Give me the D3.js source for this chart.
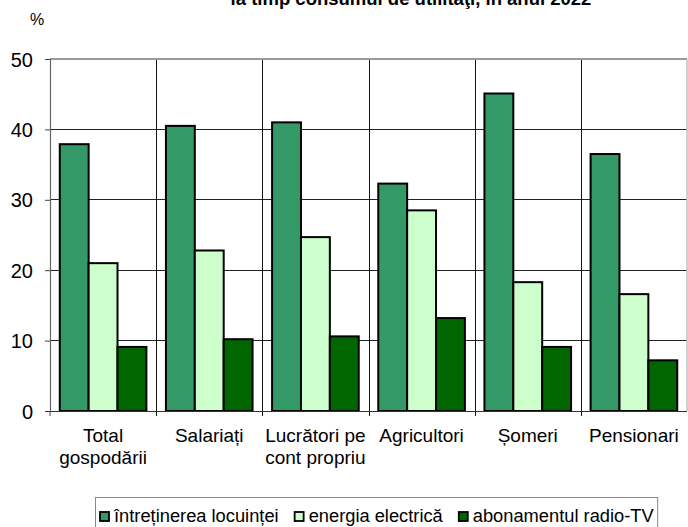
<!DOCTYPE html>
<html>
<head>
<meta charset="utf-8">
<script src="https://cdn.jsdelivr.net/npm/d3@7"></script>
<style>
  html, body { margin: 0; padding: 0; background: #fff; }
  svg { display: block; font-family: "Liberation Sans", Arial, sans-serif; }
</style>
</head>
<body>
<svg id="chart" width="688" height="527"></svg>
<script>
const categories = [["Total", "gospodării"], ["Salariați"], ["Lucrători pe", "cont propriu"], ["Agricultori"], ["Șomeri"], ["Pensionari"]];
const seriesNames = ["întreținerea locuinței", "energia electrică", "abonamentul radio-TV"];
const seriesColors = ["#339966", "#CCFFCC", "#006600"];
const intretinere = [37.9, 40.5, 41.0, 32.3, 45.1, 36.5];
const energie = [21.0, 22.8, 24.7, 28.5, 18.3, 16.6];
const abonament = [9.1, 10.2, 10.6, 13.2, 9.1, 7.2];
const yTicks = [0, 10, 20, 30, 40, 50];
const titleText = "la timp consumul de utilităţi, în anul 2022";

const values = [intretinere, energie, abonament];
const catKeys = categories.map(c => c.join(" "));

const svg = d3.select("#chart");
const pLeft = 50, pRight = 687, pTop = 59, pBottom = 411;

const x = d3.scaleBand().domain(catKeys).range([pLeft, pRight]).padding(0);
const bw = x.bandwidth();
const xi = d3.scaleBand().domain(seriesNames).range([bw * 0.092, bw * 0.908]).padding(0);
const y = d3.scaleLinear().domain([0, 50]).range([pBottom, pTop]);

// title (clipped at top)
svg.append("text").attr("x", 411).attr("y", 5).attr("text-anchor", "middle")
  .attr("font-size", 18.5).attr("font-weight", "bold").text(titleText);

// % label
svg.append("text").attr("x", 37).attr("y", 25).attr("text-anchor", "middle")
  .attr("font-size", 16).text("%");

// horizontal gridlines
svg.append("g").selectAll("line").data(yTicks.filter(t => t > 0 && t < 50)).join("line")
  .attr("x1", pLeft).attr("x2", pRight).attr("y1", d => y(d)).attr("y2", d => y(d))
  .attr("stroke", "#222").attr("stroke-width", 1).attr("shape-rendering", "crispEdges");

// vertical separators
svg.append("g").selectAll("line").data(catKeys.slice(1)).join("line")
  .attr("x1", d => Math.round(x(d)) + 0.5).attr("x2", d => Math.round(x(d)) + 0.5)
  .attr("y1", pTop).attr("y2", pBottom + 5)
  .attr("stroke", "#111").attr("stroke-width", 1);

// plot frame: top (gray), right (light gray)
svg.append("line").attr("x1", pLeft).attr("x2", pRight).attr("y1", pTop).attr("y2", pTop)
  .attr("stroke", "#9a9a9a").attr("stroke-width", 2);
svg.append("line").attr("x1", pRight).attr("x2", pRight).attr("y1", pTop).attr("y2", pBottom)
  .attr("stroke", "#c0c0c0").attr("stroke-width", 1.5);

// y axis
const yAxis = d3.axisLeft(y).tickValues(yTicks).tickSize(5).tickPadding(12);
const gy = svg.append("g").attr("transform", `translate(${pLeft},0)`).call(yAxis);
gy.select(".domain").attr("stroke", "#666").attr("stroke-width", 1.2);
gy.selectAll(".tick line").attr("stroke", "#444");
gy.selectAll(".tick text").attr("font-size", 20).attr("font-family", "Liberation Sans, Arial, sans-serif").attr("fill", "#000").attr("dy", "0.35em");

// bars
const groups = svg.append("g").selectAll("g").data(catKeys).join("g")
  .attr("transform", d => `translate(${x(d)},0)`);
groups.selectAll("rect").data((d, i) => seriesNames.map((s, j) => ({ s, j, v: values[j][i] }))).join("rect")
  .attr("x", d => xi(d.s)).attr("width", xi.bandwidth())
  .attr("y", d => y(d.v)).attr("height", d => y(0) - y(d.v))
  .attr("fill", d => seriesColors[d.j]).attr("stroke", "#000").attr("stroke-width", 2);

// x axis line
svg.append("line").attr("x1", pLeft - 5).attr("x2", pRight).attr("y1", pBottom + 0.5).attr("y2", pBottom + 0.5)
  .attr("stroke", "#333").attr("stroke-width", 1.2);
svg.append("line").attr("x1", pLeft).attr("x2", pLeft).attr("y1", pBottom).attr("y2", pBottom + 5)
  .attr("stroke", "#444");

// category labels
categories.forEach((lines, i) => {
  const cx = x(catKeys[i]) + bw / 2;
  const t = svg.append("text").attr("text-anchor", "middle").attr("font-size", 19);
  lines.forEach((ln, k) => {
    t.append("tspan").attr("x", cx).attr("y", 442 + k * 22).text(ln);
  });
});

// legend
const lg = svg.append("g");
const box = lg.append("rect").attr("y", 497.5).attr("height", 40)
  .attr("fill", "#fff").attr("stroke", "#888").attr("stroke-width", 1);
let lx = 100;
seriesNames.forEach((s, j) => {
  lg.append("rect").attr("x", lx).attr("y", 512).attr("width", 9).attr("height", 9)
    .attr("fill", seriesColors[j]).attr("stroke", "#000").attr("stroke-width", 1.8);
  const t = lg.append("text").attr("x", lx + 14).attr("y", 522).attr("font-size", 18.3).text(s);
  lx += 14 + t.node().getComputedTextLength() + 16;
});
box.attr("x", 95.5).attr("width", lx - 95.5 - 12);
</script>
</body>
</html>
